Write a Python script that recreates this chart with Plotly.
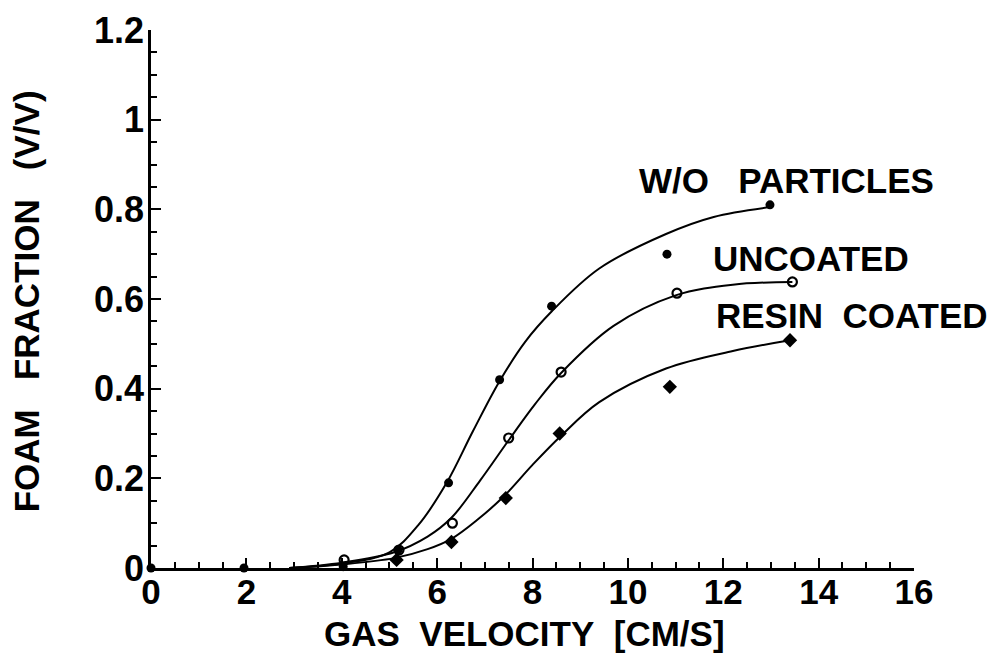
import plotly.graph_objects as go

# Measured data points
wo_x = [0, 1.95, 2.95, 4.03, 5.18, 6.24, 7.31, 8.40, 10.82, 12.98]
wo_y = [0, 0, -0.003, 0.003, 0.04, 0.19, 0.42, 0.584, 0.70, 0.81]
unc_x = [4.05, 5.2, 6.32, 7.5, 8.6, 11.03, 13.45]
unc_y = [0.018, 0.04, 0.10, 0.29, 0.437, 0.613, 0.638]
res_x = [5.15, 6.3, 7.44, 8.57, 10.88, 13.4]
res_y = [0.018, 0.058, 0.156, 0.30, 0.404, 0.508]

# Fitted curves
wo_cx = [2.9, 4.0, 5.0, 5.6, 6.2, 6.75, 7.3, 7.85, 8.4, 9.4, 10.8, 11.8, 13.0]
wo_cy = [0.0, 0.01, 0.035, 0.095, 0.19, 0.305, 0.415, 0.505, 0.572, 0.668, 0.745, 0.783, 0.805]
unc_cx = [2.9, 4.0, 5.1, 5.8, 6.3, 6.9, 7.5, 8.05, 8.6, 9.7, 11.0, 12.2, 13.45]
unc_cy = [0.0, 0.012, 0.035, 0.07, 0.112, 0.195, 0.285, 0.365, 0.435, 0.54, 0.608, 0.632, 0.638]
res_cx = [2.9, 4.0, 5.1, 5.8, 6.3, 6.85, 7.4, 8.0, 8.6, 9.4, 10.8, 12.2, 13.4]
res_cy = [0.0, 0.008, 0.022, 0.042, 0.065, 0.108, 0.16, 0.23, 0.295, 0.37, 0.445, 0.484, 0.508]

labels = ["W/O\u00a0\u00a0\u00a0PARTICLES", "UNCOATED", "RESIN\u00a0\u00a0COATED"]
label_x = [10.2, 11.75, 11.8]
label_y = [0.865, 0.69, 0.563]

x_ticks = [0, 2, 4, 6, 8, 10, 12, 14, 16]
y_ticks = [0, 0.2, 0.4, 0.6, 0.8, 1.0, 1.2]
y_tick_text = ["0", "0.2", "0.4", "0.6", "0.8", "1", "1.2"]

x_title = "GAS\u00a0\u00a0VELOCITY\u00a0\u00a0[CM/S]"
y_title = "FOAM\u00a0\u00a0\u00a0FRACTION\u00a0\u00a0\u00a0(V/V)"

FONT = "Liberation Sans"
fig = go.Figure()

for cx, cy in [(wo_cx, wo_cy), (unc_cx, unc_cy), (res_cx, res_cy)]:
    fig.add_trace(go.Scatter(x=cx, y=cy, mode="lines",
                             line=dict(color="black", width=2, shape="spline", smoothing=1.0),
                             showlegend=False, hoverinfo="skip", cliponaxis=False))

fig.add_trace(go.Scatter(x=wo_x, y=wo_y, mode="markers", cliponaxis=False,
                         marker=dict(symbol="circle", size=9, color="black"), showlegend=False))
fig.add_trace(go.Scatter(x=unc_x, y=unc_y, mode="markers", cliponaxis=False,
                         marker=dict(symbol="circle-open", size=9, color="black", line=dict(width=2.2)),
                         showlegend=False))
fig.add_trace(go.Scatter(x=res_x, y=res_y, mode="markers", cliponaxis=False,
                         marker=dict(symbol="diamond", size=11, color="black"), showlegend=False))

for t, x, y in zip(labels, label_x, label_y):
    fig.add_annotation(x=x, y=y, text=t, showarrow=False, xanchor="left", yanchor="middle",
                       font=dict(family=FONT, size=35, color="black", weight="bold"))

# axis titles
fig.add_annotation(text=x_title, xref="paper", yref="paper", x=0.49, y=-0.122,
                   xanchor="center", yanchor="middle", showarrow=False,
                   font=dict(family=FONT, size=35, color="black", weight="bold"))
fig.add_annotation(text=y_title, xref="paper", yref="paper", x=-0.163, y=0.495, textangle=-90,
                   xanchor="center", yanchor="middle", showarrow=False,
                   font=dict(family=FONT, size=35, color="black", weight="bold"))

fig.update_layout(
    width=1007, height=669,
    margin=dict(l=143, r=101, t=22, b=109),
    paper_bgcolor="white", plot_bgcolor="white",
    font=dict(family=FONT, color="black"),
)
fig.update_xaxes(range=[0, 16], tickvals=x_ticks, ticks="inside", ticklen=10, tickwidth=2,
                 tickcolor="black", showline=True, linecolor="black", linewidth=2.5, automargin=False,
                 showgrid=False, zeroline=False, tickfont=dict(size=35, family=FONT, weight="bold"),
                 ticklabelstandoff=-9,
                 minor=dict(dtick=0.5, ticks="inside", ticklen=6, tickwidth=2, tickcolor="black"))
fig.update_yaxes(range=[0, 1.2], tickvals=y_ticks, ticktext=y_tick_text, ticks="inside", ticklen=10,
                 tickwidth=2, tickcolor="black", showline=True, linecolor="black", linewidth=2.5,
                 automargin=False, ticklabelstandoff=-3,
                 showgrid=False, zeroline=False, tickfont=dict(size=36, family=FONT, weight="bold"),
                 minor=dict(dtick=0.05, ticks="inside", ticklen=6, tickwidth=2, tickcolor="black"))

fig.write_html("out.html")
